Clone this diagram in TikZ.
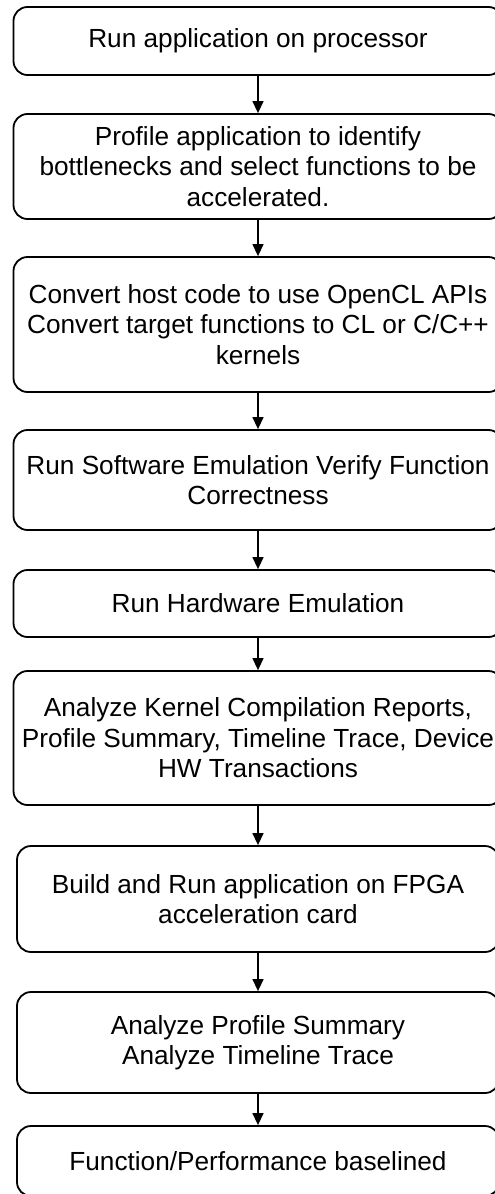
\documentclass[tikz,border=0pt]{standalone}
\usepackage{fontspec}
\setmainfont{Liberation Sans}
\usetikzlibrary{arrows.meta}

\tikzset{
  stepbox/.style={draw, line width=1.8pt, rounded corners=14pt, minimum width=489pt,
    align=center, inner sep=0pt, font=\fontsize{26.2}{30.5}\selectfont},
  flow/.style={-{Triangle[width=11pt,length=12pt]}, line width=1.3pt}
}

\begin{document}
\begin{tikzpicture}[x=1pt, y=-1pt]

    % page frame (the right and bottom edges cut the boxes)
    \clip (0,0) rectangle (495,1194);

    % --- HOST SIDE ---
    \node[stepbox, minimum height=68pt] (runcpu) at (258,41) {Run application on processor};
    \node[stepbox, minimum height=105pt] (profile) at (258,166.5)
        {Profile application to identify\\bottlenecks and select functions to be\\accelerated.};
    \node[stepbox, minimum height=135pt] (convert) at (258,324.5)
        {Convert host code to use OpenCL APIs\\Convert target functions to CL or C/C++\\kernels};

    % --- EMULATION ---
    \node[stepbox, minimum height=100pt] (swemu) at (258,480)
        {Run Software Emulation Verify Function\\Correctness};
    \node[stepbox, minimum height=67pt] (hwemu) at (258,603.5) {Run Hardware Emulation};
    \node[stepbox, minimum height=134pt] (reports) at (258,738)
        {Analyze Kernel Compilation Reports,\\Profile Summary, Timeline Trace, Device\\HW Transactions};

    % --- ON THE CARD ---
    \node[stepbox, minimum width=482pt, minimum height=106pt] (fpga) at (258,899)
        {Build and Run application on FPGA\\acceleration card};
    \node[stepbox, minimum width=482pt, minimum height=101pt] (trace) at (258,1042.5)
        {Analyze Profile Summary\\Analyze Timeline Trace};
    \node[stepbox, minimum width=482pt, minimum height=70pt] (baseline) at (258,1161)
        {Function/Performance baselined};

    % flow arrows between the steps
    \draw[flow] (runcpu) -- (profile);
    \draw[flow] (profile) -- (convert);
    \draw[flow] (convert) -- (swemu);
    \draw[flow] (swemu) -- (hwemu);
    \draw[flow] (hwemu) -- (reports);
    \draw[flow] (reports) -- (fpga);
    \draw[flow] (fpga) -- (trace);
    \draw[flow] (trace) -- (baseline);

\end{tikzpicture}
\end{document}
